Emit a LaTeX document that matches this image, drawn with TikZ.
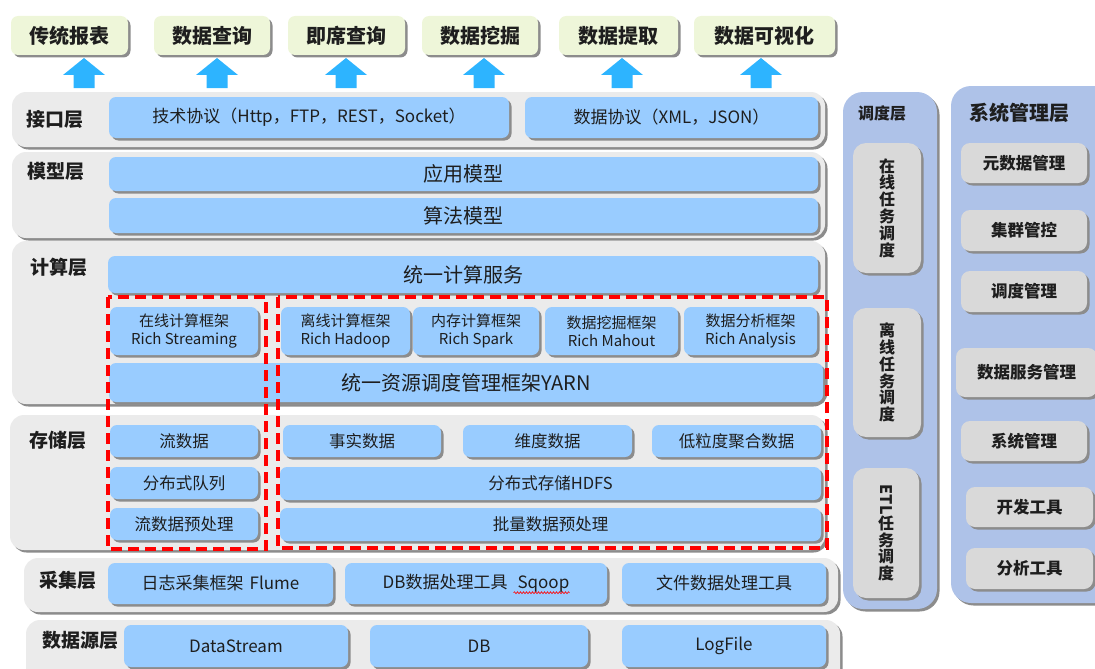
\documentclass[tikz,border=0pt]{standalone}
\usepackage{fontspec}
\setmainfont{Noto Sans CJK SC}
\usetikzlibrary{shadows,decorations.pathmorphing,calc}
\definecolor{layergray}{HTML}{EBEBEB}
\definecolor{boxblue}{HTML}{99CCFF}
\definecolor{topgreen}{HTML}{EEF6D9}
\definecolor{arrowblue}{HTML}{2DB4FF}
\definecolor{sideblue}{HTML}{AEC2E8}
\definecolor{sidegray}{HTML}{D9D9D9}
\definecolor{shadowc}{HTML}{8C8C8C}
\definecolor{txt}{HTML}{1E1E1E}
\definecolor{dashred}{HTML}{FF0000}
\newcommand{\placebox}[7]{\node[#6, minimum width={(#4)-(#2)}, minimum height={(#5)-(#3)}] (#1) at ({((#2)+(#4))/2},{((#3)+(#5))/2}) {#7};}
\tikzset{
  shad/.style={drop shadow={shadow xshift=2.5pt, shadow yshift=-2.5pt, fill=shadowc, opacity=1}},
  layerbox/.style={fill=layergray, rounded corners=14pt, inner sep=0pt, shad},
  bluebox/.style={fill=boxblue, rounded corners=7pt, inner sep=0pt, text=txt, align=center, shad},
  topbox/.style={fill=topgreen, rounded corners=7pt, inner sep=0pt, text=txt, shad, font=\bfseries\fontsize{20}{24}\selectfont},
  sidecol/.style={fill=sideblue, rounded corners=20pt, inner sep=0pt, shad},
  sidebox/.style={fill=sidegray, rounded corners=9pt, inner sep=0pt, text=txt, align=center, shad, font=\bfseries\fontsize{16.5}{20}\selectfont},
  vertbox/.style={fill=sidegray, rounded corners=13pt, inner sep=0pt, text=txt, align=center, shad, font=\bfseries\fontsize{16}{16.8}\selectfont},
  layerlabel/.style={text=txt, inner sep=0pt, font=\bfseries\fontsize{19}{22}\selectfont},
  fA/.style={font=\fontsize{20}{24}\selectfont},
  fB/.style={font=\fontsize{16.5}{20}\selectfont},
  fI/.style={font=\fontsize{17}{20}\selectfont},
  fC/.style={font=\fontsize{15}{18}\selectfont},
  fD/.style={font=\fontsize{17}{20}\selectfont},
  reddash/.style={draw=dashred, line width=3.2pt, dash pattern=on 11pt off 6pt},
  uparrow/.pic={\fill[arrowblue] (-10.5,30) -- (-10.5,17) -- (-21,17) -- (0,0) -- (21,17) -- (10.5,17) -- (10.5,30) -- cycle;}
}
\begin{document}
\begin{tikzpicture}[x=1pt,y=-1pt]
\useasboundingbox (0,0) rectangle (1095,669);
% top application boxes
\placebox{t1}{11}{16}{128}{55}{topbox}{传统报表}
\placebox{t2}{154}{16}{270}{55}{topbox}{数据查询}
\placebox{t3}{288}{16}{405}{55}{topbox}{即席查询}
\placebox{t4}{422}{16}{538}{55}{topbox}{数据挖掘}
\placebox{t5}{559}{16}{678}{55}{topbox}{数据提取}
\placebox{t6}{694}{16}{835}{55}{topbox}{数据可视化}
\pic at (84,58) {uparrow};
\pic at (217,58) {uparrow};
\pic at (346,58) {uparrow};
\pic at (484,58) {uparrow};
\pic at (622,58) {uparrow};
\pic at (761,58) {uparrow};
% layers
\placebox{Lif}{12}{92}{825}{147}{layerbox}{}
\placebox{Lmd}{12}{152}{825}{238}{layerbox}{}
\placebox{Lcp}{12}{241}{825}{404}{layerbox}{}
\placebox{Lst}{10}{415}{825}{550}{layerbox}{}
\placebox{Lcl}{24}{558}{838}{612}{layerbox}{}
\placebox{Lsr}{26}{620}{840}{690}{layerbox}{}
\node[layerlabel] (lb1) at (55,119) {接口层};
\node[layerlabel] (lb2) at (56,171) {模型层};
\node[layerlabel] (lb3) at (59,267) {计算层};
\node[layerlabel] (lb4) at (58,440) {存储层};
\node[layerlabel] (lb5) at (68,580) {采集层};
\node[layerlabel] (lb6) at (80,640) {数据源层};
% interface
\placebox{if1}{109}{97}{509}{138}{bluebox,fI}{技术协议（Http，FTP，REST，Socket）}
\placebox{if2}{525}{97}{818}{138}{bluebox,fI}{数据协议（XML，JSON）}
% model
\placebox{md1}{109}{157}{818}{191}{bluebox,fA}{应用模型}
\placebox{md2}{109}{198}{818}{233}{bluebox,fA}{算法模型}
% compute
\placebox{cp0}{108}{256}{818}{293}{bluebox,fA}{统一计算服务}
\placebox{cp1}{110}{307}{258}{355}{bluebox,fC}{在线计算框架\\Rich Streaming}
\placebox{cp2}{281}{307}{410}{355}{bluebox,fC}{离线计算框架\\Rich Hadoop}
\placebox{cp3}{413}{307}{539}{355}{bluebox,fC}{内存计算框架\\Rich Spark}
\placebox{cp4}{545}{307}{678}{355}{bluebox,fC}{数据挖掘框架\\Rich Mahout}
\placebox{cp5}{684}{307}{817}{355}{bluebox,fC}{数据分析框架\\Rich Analysis}
\placebox{yarn}{109}{363}{823}{402}{bluebox,fA}{统一资源调度管理框架YARN}
% storage
\placebox{st1}{110}{425}{258}{457}{bluebox,fB}{流数据}
\placebox{st2}{110}{467}{258}{499}{bluebox,fB}{分布式队列}
\placebox{st3}{110}{508}{258}{540}{bluebox,fB}{流数据预处理}
\placebox{st4}{283}{425}{441}{457}{bluebox,fB}{事实数据}
\placebox{st5}{463}{425}{632}{457}{bluebox,fB}{维度数据}
\placebox{st6}{652}{425}{821}{457}{bluebox,fB}{低粒度聚合数据}
\placebox{st7}{280}{467}{821}{500}{bluebox,fB}{分布式存储HDFS}
\placebox{st8}{280}{508}{821}{541}{bluebox,fB}{批量数据预处理}
% collection
\placebox{cl1}{108}{563}{333}{604}{bluebox,fD}{日志采集框架\hspace{6pt}Flume}
\placebox{cl2}{345}{563}{607}{604}{bluebox}{}
\node[fD, text=txt, inner sep=0pt] (cl2t) at (cl2.center) {DB数据处理工具\hspace{10pt}Sqoop};
\draw[dashred, line width=0.6pt, decorate, decoration={snake, amplitude=1pt, segment length=3pt}]
  ($(cl2t.base east)+(-56,4)$) -- ($(cl2t.base east)+(0,4)$);
\placebox{cl3}{622}{563}{826}{604}{bluebox,fD}{文件数据处理工具}
% sources
\placebox{sr1}{124}{625}{348}{667}{bluebox,fD}{DataStream}
\placebox{sr2}{370}{625}{588}{667}{bluebox,fD}{DB}
\placebox{sr3}{622}{625}{826}{667}{bluebox,fD}{LogFile}
% red dashed groups
\draw[reddash] (108,297) rectangle (266,549);
\draw[reddash] (278,297) rectangle (827,548);
% scheduling column
\placebox{sch}{843}{92}{937}{609}{sidecol}{}
\node[text=txt, inner sep=0pt, font=\bfseries\fontsize{16}{20}\selectfont] (schl) at (882,113) {调度层};
\placebox{sc1}{853}{143}{921}{273}{vertbox}{在\\线\\任\\务\\调\\度}
\placebox{sc2}{853}{308}{921}{437}{vertbox}{离\\线\\任\\务\\调\\度}
\placebox{sc3}{853}{468}{919}{598}{vertbox}{\rotatebox{-90}{ETL}\\任\\务\\调\\度}
% system management column
\placebox{sys}{951}{86}{1115}{603}{sidecol}{}
\node[text=txt, inner sep=0pt, font=\bfseries\fontsize{20}{24}\selectfont] (sysl) at (1019,113) {系统管理层};
\placebox{sm1}{961}{143}{1087}{183}{sidebox}{元数据管理}
\placebox{sm2}{961}{210}{1087}{251}{sidebox}{集群管控}
\placebox{sm3}{961}{271}{1087}{312}{sidebox}{调度管理}
\placebox{sm4}{956}{348}{1097}{397}{sidebox}{数据服务管理}
\placebox{sm5}{961}{421}{1087}{461}{sidebox}{系统管理}
\placebox{sm6}{966}{487}{1093}{527}{sidebox}{开发工具}
\placebox{sm7}{966}{548}{1093}{589}{sidebox}{分析工具}
\end{tikzpicture}
\end{document}
